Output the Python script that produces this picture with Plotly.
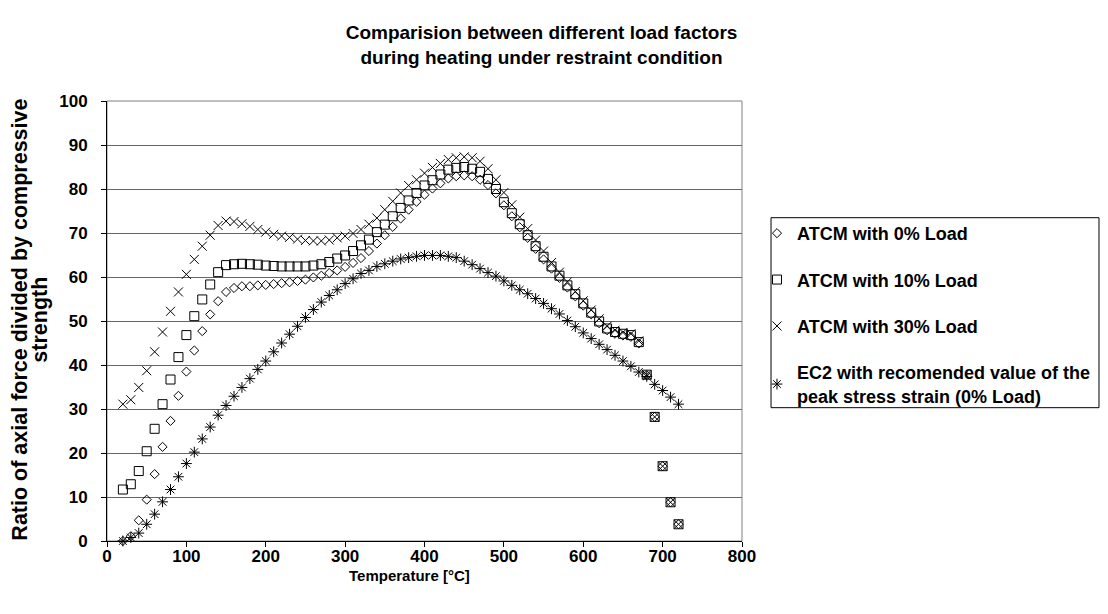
import plotly.graph_objects as go

temperature = [20, 30, 40, 50, 60, 70, 80, 90, 100, 110, 120, 130, 140, 150, 160, 170, 180, 190,
               200, 210, 220, 230, 240, 250, 260, 270, 280, 290, 300, 310, 320, 330, 340, 350,
               360, 370, 380, 390, 400, 410, 420, 430, 440, 450, 460, 470, 480, 490, 500, 510,
               520, 530, 540, 550, 560, 570, 580, 590, 600, 610, 620, 630, 640, 650, 660, 670,
               680, 690, 700, 710, 720]

atcm_0 = [0.0, 1.1, 4.7, 9.4, 15.2, 21.4, 27.3, 33.0, 38.5, 43.3, 47.7, 51.5, 54.5, 56.6, 57.5,
          57.9, 57.9, 58.1, 58.2, 58.4, 58.6, 58.8, 59.1, 59.4, 59.9, 60.3, 60.9, 61.5, 62.3,
          63.2, 64.3, 65.9, 67.6, 69.5, 71.4, 73.3, 75.3, 77.1, 78.7, 80.1, 81.3, 82.4, 82.9,
          83.1, 82.9, 82.1, 80.9, 79.0, 76.3, 73.8, 71.3, 68.9, 66.4, 64.0, 61.9, 59.8, 57.6,
          55.6, 53.5, 51.5, 49.5, 47.9, 47.1, 46.7, 46.4, 44.9, 37.7, 28.2, 17.0, 8.8, 3.8]

atcm_10 = [11.7, 12.9, 15.9, 20.4, 25.5, 31.1, 36.7, 41.8, 46.8, 51.1, 54.9, 58.3, 61.1, 62.7,
           62.9, 63.0, 62.9, 62.8, 62.6, 62.5, 62.4, 62.4, 62.4, 62.4, 62.6, 62.9, 63.4, 64.2,
           64.9, 65.9, 67.2, 68.5, 70.2, 71.9, 73.8, 75.7, 77.4, 79.1, 80.8, 82.0, 83.3, 84.4,
           84.8, 85.0, 84.6, 83.9, 82.3, 80.0, 77.0, 74.5, 72.0, 69.5, 67.0, 64.6, 62.4, 60.3,
           58.1, 56.1, 54.0, 51.9, 49.9, 48.3, 47.5, 47.1, 46.8, 45.2, 37.8, 28.2, 17.0, 8.8, 3.8]

atcm_30 = [31.1, 32.1, 34.9, 38.7, 43.0, 47.5, 52.2, 56.6, 60.6, 64.0, 67.0, 69.5, 71.7, 72.7,
           72.6, 72.1, 71.5, 70.8, 70.2, 69.7, 69.3, 69.0, 68.6, 68.3, 68.2, 68.2, 68.4, 68.9,
           69.3, 69.9, 70.8, 72.0, 73.4, 75.3, 77.2, 79.1, 80.8, 82.1, 83.6, 84.9, 85.8, 86.7,
           87.1, 87.3, 87.1, 86.3, 84.6, 82.1, 79.2, 76.4, 73.6, 71.0, 68.4, 65.9, 63.3, 61.1,
           58.9, 56.7, 54.6, 52.5, 50.5, 48.8, 47.9, 47.4, 47.1, 45.5, 37.8, 28.2, 17.0, 8.8, 3.8]

ec2_0 = [0.0, 0.8, 1.8, 3.8, 6.1, 8.9, 11.7, 14.6, 17.6, 20.2, 23.2, 25.9, 28.6, 30.8, 32.9,
         34.9, 36.9, 39.0, 40.9, 43.0, 45.0, 47.0, 48.8, 50.8, 52.6, 54.3, 55.8, 57.1, 58.5,
         59.6, 60.8, 61.5, 62.4, 63.0, 63.6, 64.1, 64.4, 64.7, 64.9, 64.9, 64.9, 64.7, 64.4,
         63.6, 62.8, 61.9, 61.0, 60.2, 59.1, 58.1, 57.1, 56.2, 55.1, 54.0, 52.8, 51.6, 50.1,
         48.7, 47.3, 46.0, 44.7, 43.5, 42.2, 40.9, 39.7, 38.4, 37.4, 35.6, 34.2, 32.7, 31.1]

series_names = ["ATCM with 0% Load", "ATCM with 10% Load", "ATCM with 30% Load",
                "EC2 with recomended value of the<br>peak stress strain (0% Load)"]

x_ticks = [0, 100, 200, 300, 400, 500, 600, 700, 800]
y_ticks = [0, 10, 20, 30, 40, 50, 60, 70, 80, 90, 100]

FONT = "Liberation Sans, Arial, sans-serif"

fig = go.Figure()
styles = [
    dict(symbol="diamond-open", size=7),
    dict(symbol="square-open", size=9),
    dict(symbol="x-thin-open", size=9),
    dict(symbol="asterisk-open", size=9),
]
for i, (name, vals, st) in enumerate(zip(series_names, [atcm_0, atcm_10, atcm_30, ec2_0], styles)):
    fig.add_trace(go.Scatter(
        x=temperature, y=vals, mode="markers", name=name,
        legendgroup=f"g{i}", cliponaxis=False,
        marker=dict(symbol=st["symbol"], size=st["size"], color="black",
                    line=dict(color="black", width=1)),
    ))

# plot-area frame and legend box
fig.add_shape(type="rect", xref="x domain", yref="y domain", x0=0, x1=1, y0=0, y1=1,
              line=dict(color="#808080", width=1), layer="below")
fig.add_shape(type="rect", xref="paper", yref="paper", x0=1.0457, x1=1.5622, y0=0.303, y1=0.7348,
              line=dict(color="black", width=1), fillcolor="white", layer="below")

# axis titles
fig.add_annotation(text="Temperature [°C]", xref="paper", yref="paper", x=0.477, y=0,
                   xanchor="center", yanchor="middle", yshift=-34, showarrow=False,
                   font=dict(family=FONT, size=15, weight="bold", color="black"))
fig.add_annotation(text="Ratio of axial force divided by compressive", xref="paper", yref="paper",
                   x=-0.1362, y=0.502, xanchor="center", yanchor="middle", textangle=-90,
                   showarrow=False, font=dict(family=FONT, size=21.5, weight="bold", color="black"))
fig.add_annotation(text="strength", xref="paper", yref="paper",
                   x=-0.1047, y=0.502, xanchor="center", yanchor="middle", textangle=-90,
                   showarrow=False, font=dict(family=FONT, size=21.5, weight="bold", color="black"))

fig.update_layout(
    width=1092, height=598,
    paper_bgcolor="white", plot_bgcolor="white",
    margin=dict(l=99, r=358, t=93, b=65, autoexpand=False),
    font=dict(family=FONT, color="black", size=17),
    title=dict(text="Comparision between different load factors<br>during heating under restraint condition",
               x=0.4886, xref="container", xanchor="center", y=0.948, yref="container", yanchor="middle",
               font=dict(family=FONT, size=19, weight="bold", color="black")),
    showlegend=True,
    legend=dict(x=1.0236, y=0.741, xanchor="left", yanchor="top", bgcolor="rgba(0,0,0,0)",
                borderwidth=0, tracegroupgap=20, itemwidth=30,
                font=dict(family=FONT, size=18, weight="bold", color="black")),
    xaxis=dict(range=[0, 800], tickvals=x_ticks, showgrid=False, zeroline=False,
               showline=True, linecolor="black", linewidth=1, ticks="outside", ticklen=5,
               tickcolor="black", ticklabelstandoff=-5,
               tickfont=dict(family=FONT, size=17, weight="bold")),
    yaxis=dict(range=[0, 100], tickvals=y_ticks, showgrid=True, gridcolor="#666666", gridwidth=1,
               zeroline=False, showline=True, linecolor="black", linewidth=1, ticks="outside",
               ticklen=5, tickcolor="black", ticklabelstandoff=10,
               tickfont=dict(family=FONT, size=17, weight="bold")),
)

fig.write_html("out.html")
